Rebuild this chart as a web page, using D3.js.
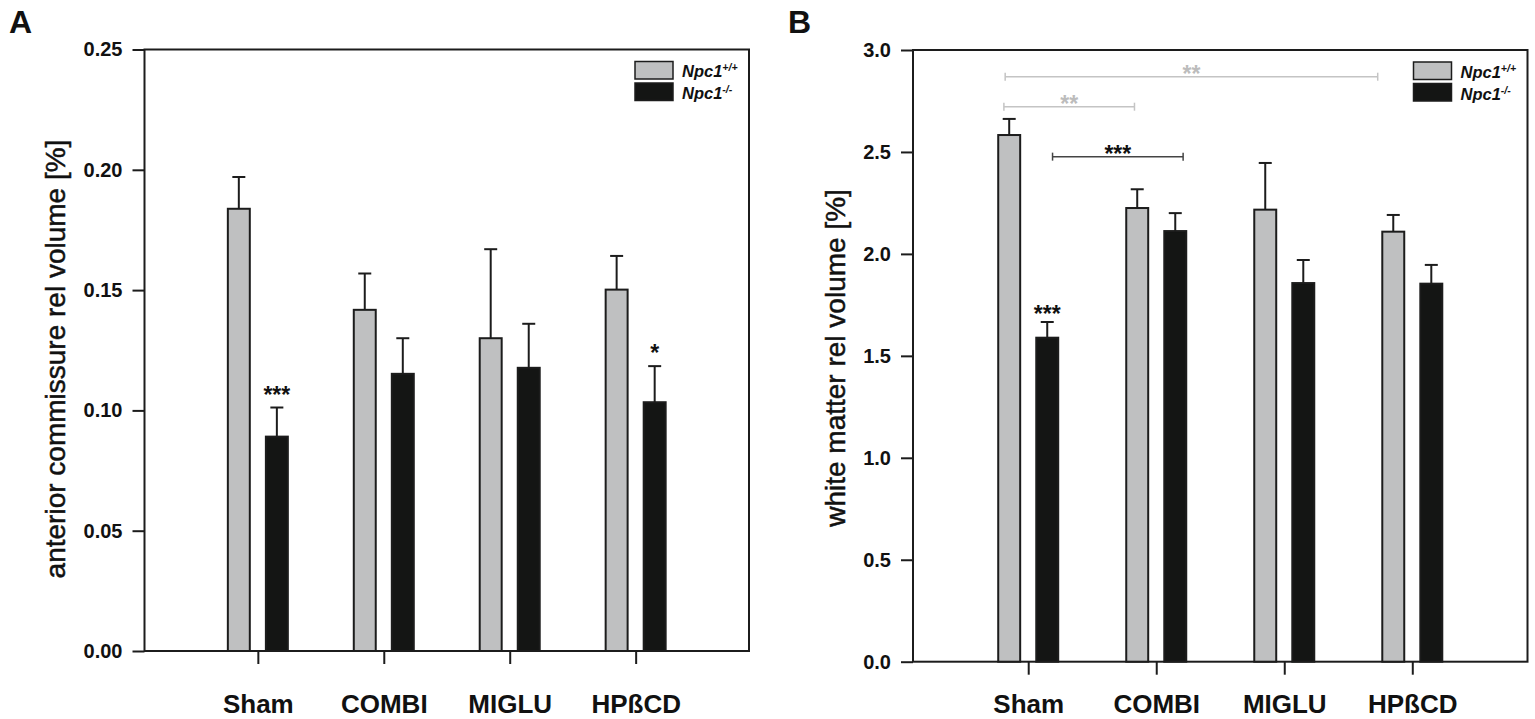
<!doctype html>
<html>
    <head>
        <meta charset="utf-8">
        <title>relative volumes</title>
        <script src="https://d3js.org/d3.v7.min.js"></script>
        <style type="text/css">
            body { margin:0; background:#fff; }
            text { font-family:"Liberation Sans", Arial, sans-serif; fill:#111; }
        </style>
    </head>
    <body>
      <svg></svg>
      <script type="text/javascript">

        let w = 1535,
            h = 719;

        // treatment groups
        let categories = ['Sham', 'COMBI', 'MIGLU', 'HPßCD'];

        // panel A: anterior commissure rel volume [%]
        let acTicks = [0, 0.05, 0.10, 0.15, 0.20, 0.25];
        let acWildType = [0.1838, 0.1418, 0.1300, 0.1502];
        let acWildTypeErr = [0.0132, 0.0151, 0.0370, 0.0140];
        let acKnockout = [0.0891, 0.1152, 0.1177, 0.1034];
        let acKnockoutErr = [0.0121, 0.0148, 0.0183, 0.0150];
        let acStars = ['***', '', '', '*'];

        // panel B: white matter rel volume [%]
        let wmTicks = [0, 0.5, 1.0, 1.5, 2.0, 2.5, 3.0];
        let wmWildType = [2.583, 2.225, 2.217, 2.109];
        let wmWildTypeErr = [0.079, 0.092, 0.229, 0.082];
        let wmKnockout = [1.589, 2.112, 1.857, 1.854];
        let wmKnockoutErr = [0.077, 0.088, 0.113, 0.092];
        let wmStars = ['***', '', '', ''];

        // brackets in panel B (from / to in category index units)
        let bracketFrom = [-0.18, -0.19, 0.19];
        let bracketTo = [2.73, 0.83, 1.21];
        let bracketY = [2.869, 2.722, 2.477];
        let bracketLabel = ['**', '**', '***'];
        let bracketGroup = ['wt', 'wt', 'ko'];

        let grey = '#bfc0c1',
            dark = '#141514',
            edge = '#1c1c1c';

        let svg = d3.select('svg')
                    .attr('width', w)
                    .attr('height', h);

        function panel(cfg) {
            let g = svg.append('g');

            let x = d3.scalePoint()
                      .domain(categories)
                      .range([cfg.left, cfg.right])
                      .padding(0.9);
            let y = d3.scaleLinear()
                      .domain([0, d3.max(cfg.ticks)])
                      .range([cfg.bottom, cfg.top]);
            let inner = d3.scaleBand()
                          .domain(['wt', 'ko'])
                          .range([-31, 31])
                          .paddingInner(0.37);

            let rows = categories.map(function(c, i) {
                return [
                    {cat: c, key: 'wt', v: cfg.wt[i], e: cfg.wtErr[i]},
                    {cat: c, key: 'ko', v: cfg.ko[i], e: cfg.koErr[i]}
                ];
            }).flat();

            // frame
            g.append('rect')
             .attr('x', cfg.left).attr('y', cfg.top)
             .attr('width', cfg.right - cfg.left)
             .attr('height', cfg.bottom - cfg.top)
             .attr('fill', 'none')
             .attr('stroke', edge)
             .attr('stroke-width', 2);

            // y axis
            let ya = g.append('g')
                      .attr('transform', 'translate(' + cfg.left + ',0)')
                      .call(d3.axisLeft(y)
                              .tickValues(cfg.ticks)
                              .tickFormat(d3.format(cfg.fmt))
                              .tickSize(12)
                              .tickSizeOuter(0)
                              .tickPadding(10));
            ya.select('.domain').remove();
            ya.selectAll('line').attr('stroke', edge).attr('stroke-width', 2);
            ya.selectAll('text')
              .style('font-size', '20px')
              .style('font-weight', 'bold')
              .attr('fill', '#111');

            // x axis
            let xa = g.append('g')
                      .attr('transform', 'translate(0,' + cfg.bottom + ')')
                      .call(d3.axisBottom(x)
                              .tickSize(13)
                              .tickSizeOuter(0));
            xa.select('.domain').remove();
            xa.selectAll('line').attr('stroke', edge).attr('stroke-width', 2);
            xa.selectAll('text')
              .attr('y', 713 - cfg.bottom)
              .attr('dy', null)
              .style('font-size', '26px')
              .style('font-weight', 'bold')
              .attr('fill', '#111');

            // bars
            g.selectAll('rect.bar')
             .data(rows)
             .enter()
             .append('rect')
             .attr('class', 'bar')
             .attr('x', function(d) { return x(d.cat) + inner(d.key) + 1; })
             .attr('y', function(d) { return y(d.v); })
             .attr('width', inner.bandwidth() - 2)
             .attr('height', function(d) { return cfg.bottom - y(d.v); })
             .attr('fill', function(d) { return d.key == 'wt' ? grey : dark; })
             .attr('stroke', edge)
             .attr('stroke-width', 2);

            // error bars (upper only)
            let eb = g.selectAll('g.err')
                      .data(rows)
                      .enter()
                      .append('g')
                      .attr('class', 'err')
                      .attr('stroke', edge)
                      .attr('stroke-width', 2);
            eb.append('line')
              .attr('x1', function(d) { return x(d.cat) + inner(d.key) + inner.bandwidth() / 2; })
              .attr('x2', function(d) { return x(d.cat) + inner(d.key) + inner.bandwidth() / 2; })
              .attr('y1', function(d) { return y(d.v); })
              .attr('y2', function(d) { return y(d.v + d.e); });
            eb.append('line')
              .attr('x1', function(d) { return x(d.cat) + inner(d.key) + inner.bandwidth() / 2 - 6.5; })
              .attr('x2', function(d) { return x(d.cat) + inner(d.key) + inner.bandwidth() / 2 + 6.5; })
              .attr('y1', function(d) { return y(d.v + d.e); })
              .attr('y2', function(d) { return y(d.v + d.e); });

            // significance stars over knockout bars
            g.selectAll('text.star')
             .data(categories)
             .enter()
             .append('text')
             .attr('class', 'star')
             .attr('x', function(c) { return x(c) + inner('ko') + inner.bandwidth() / 2; })
             .attr('y', function(c, i) { return y(cfg.ko[i] + cfg.koErr[i]) - cfg.starGap; })
             .attr('text-anchor', 'middle')
             .style('font-size', '23px')
             .style('font-weight', 'bold')
             .text(function(c, i) { return cfg.stars[i]; });

            // legend
            let lg = g.append('g')
                      .attr('transform', 'translate(' + (cfg.right - 114) + ',' + (cfg.top + 12) + ')');
            [['wt', '+/+'], ['ko', '-/-']].forEach(function(k, i) {
                lg.append('rect')
                  .attr('x', 0).attr('y', i * 21.5)
                  .attr('width', 38).attr('height', 17.5)
                  .attr('fill', k[0] == 'wt' ? grey : dark)
                  .attr('stroke', edge)
                  .attr('stroke-width', 1.5);
                let t = lg.append('text')
                          .attr('x', 47).attr('y', i * 22 + 15.5)
                          .style('font-size', '16.5px')
                          .style('font-weight', 'bold')
                          .style('font-style', 'italic');
                t.append('tspan').text('Npc1');
                t.append('tspan')
                 .attr('dy', -6)
                 .style('font-size', '10.5px')
                 .text(k[1]);
            });

            // y title
            g.append('text')
             .attr('transform', 'translate(' + cfg.titleX + ',' + cfg.titleY + ') rotate(-90)')
             .attr('text-anchor', 'middle')
             .attr('dominant-baseline', 'central')
             .attr('stroke', '#111')
             .attr('stroke-width', 0.5)
             .style('font-size', '28px')
             .text(cfg.title);

            // panel letter
            g.append('text')
             .attr('x', cfg.letterX).attr('y', 33)
             .style('font-size', '32px')
             .style('font-weight', 'bold')
             .text(cfg.letter);

            return {x: x, y: y, g: g};
        }

        panel({
            left: 144.5, right: 749, top: 49.5, bottom: 651,
            ticks: acTicks, fmt: '.2f',
            wt: acWildType, wtErr: acWildTypeErr,
            ko: acKnockout, koErr: acKnockoutErr,
            stars: acStars, starGap: 5,
            title: 'anterior commissure rel volume [%]',
            titleX: 55, titleY: 359,
            letter: 'A', letterX: 9
        });

        let pb = panel({
            left: 913, right: 1527.5, top: 50, bottom: 661.7,
            ticks: wmTicks, fmt: '.1f',
            wt: wmWildType, wtErr: wmWildTypeErr,
            ko: wmKnockout, koErr: wmKnockoutErr,
            stars: wmStars, starGap: 0,
            title: 'white matter rel volume [%]',
            titleX: 835, titleY: 358,
            letter: 'B', letterX: 788
        });

        // comparison brackets in panel B
        let xi = d3.scaleLinear()
                   .domain([0, categories.length - 1])
                   .range([pb.x(categories[0]), pb.x(categories[categories.length - 1])]);

        bracketY.forEach(function(v, i) {
            let col = bracketGroup[i] == 'wt' ? '#c4c4c4' : '#444',
                x1 = xi(bracketFrom[i]),
                x2 = xi(bracketTo[i]),
                yy = pb.y(v);
            let b = pb.g.append('g')
                        .attr('stroke', col)
                        .attr('stroke-width', 1.5);
            b.append('line').attr('x1', x1).attr('x2', x2).attr('y1', yy).attr('y2', yy);
            b.append('line').attr('x1', x1).attr('x2', x1).attr('y1', yy - 4).attr('y2', yy + 4);
            b.append('line').attr('x1', x2).attr('x2', x2).attr('y1', yy - 4).attr('y2', yy + 4);
            pb.g.append('text')
                .attr('x', (x1 + x2) / 2)
                .attr('y', yy + 5)
                .attr('text-anchor', 'middle')
                .style('font-size', '23px')
                .style('font-weight', 'bold')
                .style('fill', bracketGroup[i] == 'wt' ? '#bcbcbc' : '#111')
                .text(bracketLabel[i]);
        });
        </script>
    </body>
</html>
